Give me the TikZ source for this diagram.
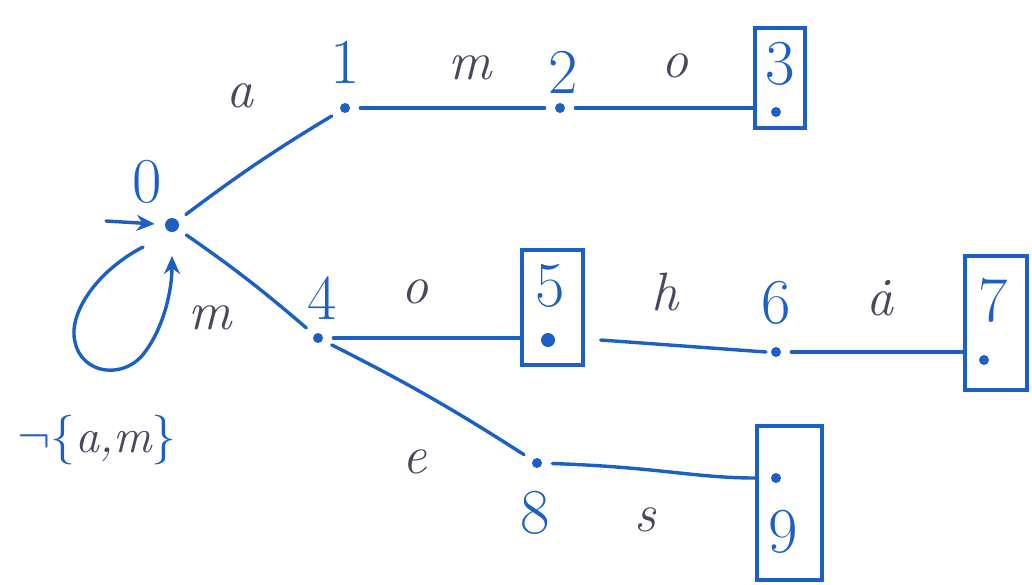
\documentclass[tikz,border=0pt]{standalone}
\usetikzlibrary{arrows.meta,calc}
\definecolor{blueink}{RGB}{28,96,198}
\definecolor{labgray}{RGB}{72,72,92}
\begin{document}
\begin{tikzpicture}[x=0.5pt,y=-0.5pt,
  ink/.style={draw=blueink, line width=1.7pt, line cap=round},
  dotbig/.style={circle, fill=blueink, inner sep=0pt, minimum size=7pt},
  dotsmall/.style={circle, fill=blueink, inner sep=0pt, minimum size=5pt},
  num/.style={text=blueink, font=\fontsize{32}{34}\selectfont},
  sym/.style={text=labgray, font=\fontsize{27}{29}\selectfont\itshape},
  accbox/.style={draw=blueink, line width=1.7pt, inner sep=0pt, rectangle},
  edge/.style={ink, shorten <=5pt, shorten >=5pt},
  toedge/.style={ink, shorten <=5pt}]
\useasboundingbox (0,0) rectangle (1032,584);
% accepting boxes
\node[accbox, minimum width=25pt, minimum height=50pt] (b3) at (780,78) {};
\node[accbox, minimum width=30.5pt, minimum height=57.5pt] (b5) at (552.5,307.5) {};
\node[accbox, minimum width=31pt, minimum height=67pt] (b7) at (996,323) {};
\node[accbox, minimum width=32.5pt, minimum height=77pt] (b9) at (789.5,503) {};
% states
\node[dotbig] (n0) at (172,225) {};
\node[dotsmall] (n1) at (345,108) {};
\node[dotsmall] (n2) at (560,108) {};
\node[dotsmall] (n3) at (776,112) {};
\node[dotsmall] (n4) at (318,338) {};
\node[dotbig] (n5) at (548,340) {};
\node[dotsmall] (n6) at (776,352) {};
\node[dotsmall] (n7) at (984,360) {};
\node[dotsmall] (n8) at (537,463) {};
\node[dotsmall] (n9) at (776,478) {};
% state numbers
\node[num] (l0) at (147,182) {0};
\node[num] (l1) at (345,62) {1};
\node[num] (l2) at (563,72) {2};
\node[num] (l3) at (780,64) {3};
\node[num] (l4) at (322,298) {4};
\node[num] (l5) at (550,286) {5};
\node[num] (l6) at (776,303) {6};
\node[num] (l7) at (993,300) {7};
\node[num] (l8) at (535,513) {8};
\node[num] (l9) at (783,532) {9};
% transitions
\draw[edge] (n0) to[bend left=3] (n1);
\draw[edge] (n1) -- (n2);
\draw[toedge] (n2) -- (n2 -| b3.west);
\draw[edge] (n0) to[bend left=3] (n4);
\draw[toedge] (n4) -- (n4 -| b5.west);
\draw[ink] ($(n5 -| b5.east)+(8pt,0pt)$) -- ($(n6)+(-5pt,0)$);
\draw[toedge] (n6) -- (n6 -| b7.west);
\draw[edge] (n4) to[bend left=3] (n8);
\draw[toedge] (n8) .. controls ($(n8)+(60pt,-2pt)$) and ($(n9 -| b9.west)+(-30pt,0)$) .. (n9 -| b9.west);
% transition labels
\node[sym] (ta) at (240,96) {a};
\node[sym] (tm1) at (470,68) {m};
\node[sym] (to1) at (675,66) {o};
\node[sym] (tm2) at (210,318) {m};
\node[sym] (to2) at (415,292) {o};
\node[sym] (th) at (665,292) {h};
\node[sym] (ta2) at (880,298) {\.a};
\node[sym] (te) at (415,462) {e};
\node[sym] (ts) at (645,520) {s};
% initial arrow
\coordinate (init) at (106,221);
\draw[ink, -{Stealth[length=9pt,width=8pt]}, shorten >=5pt] (init) -- (n0);
% self loop
\coordinate (ls) at (143,247);
\coordinate (le) at (172,256);
\draw[ink, -{Stealth[length=9pt,width=8pt]}] (ls) .. controls (95,272) and (68,315) .. (75,342)
  .. controls (82,375) and (125,380) .. (145,352)
  .. controls (163,328) and (172,292) .. (le);
\node (loopl) at (97,440) {\fontsize{24}{26}\selectfont\textcolor{blueink}{$\neg\{$}\textcolor{labgray}{\itshape a,m}\textcolor{blueink}{$\}$}};
\end{tikzpicture}
\end{document}
